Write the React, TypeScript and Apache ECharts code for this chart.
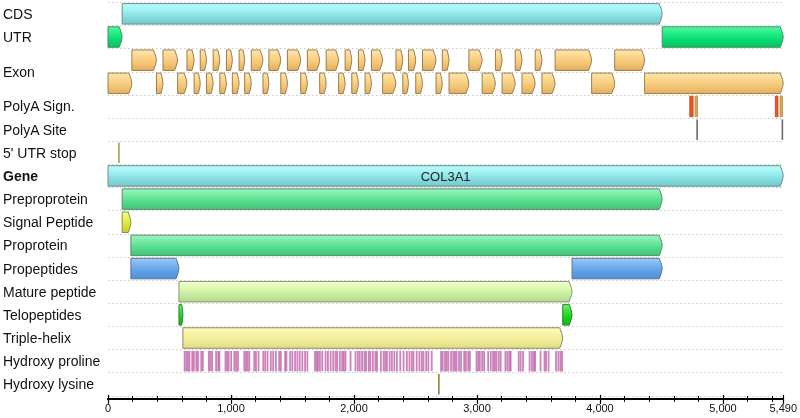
import React, { useEffect, useRef } from 'react';
import * as echarts from 'echarts';

// ---------- data ----------
const laneKeys = ['CDS', 'UTR', 'Exon-a', 'Exon-b', 'PolyA Sign.', 'PolyA Site', "5' UTR stop", 'Gene',
  'Preproprotein', 'Signal Peptide', 'Proprotein', 'Propeptides', 'Mature peptide', 'Telopeptides',
  'Triple-helix', 'Hydroxy proline', 'Hydroxy lysine'];

const laneLabels = [
  { text: 'CDS', lane: 0 }, { text: 'UTR', lane: 1 }, { text: 'Exon', lane: 2.5 },
  { text: 'PolyA Sign.', lane: 4 }, { text: 'PolyA Site', lane: 5 }, { text: "5' UTR stop", lane: 6 },
  { text: 'Gene', lane: 7, bold: true }, { text: 'Preproprotein', lane: 8 }, { text: 'Signal Peptide', lane: 9 },
  { text: 'Proprotein', lane: 10 }, { text: 'Propeptides', lane: 11 }, { text: 'Mature peptide', lane: 12 },
  { text: 'Telopeptides', lane: 13 }, { text: 'Triple-helix', lane: 14 }, { text: 'Hydroxy proline', lane: 15 },
  { text: 'Hydroxy lysine', lane: 16 },
];

const seqLength = 5490;
const xTicksMajor = 1000;
const xTicksMinor = 200;

const cds = [[115, 4506]];
const utr = [[0, 115], [4506, 5490]];
const exonBounds = [0, 194, 394, 447, 566, 642, 700, 750, 801, 855, 909, 963, 1011, 1066, 1111, 1165, 1260, 1308,
  1405, 1459, 1567, 1621, 1721, 1774, 1875, 1928, 1982, 2036, 2090, 2142, 2233, 2341, 2397, 2443, 2502, 2557, 2667,
  2718, 2773, 2934, 3042, 3150, 3204, 3311, 3366, 3473, 3528, 3635, 3932, 4120, 4363, 5490];
const polyASignalRed = [[4730, 4757], [5426, 5447]];
const polyASignalTan = [[4773, 4784], [5464, 5474]];
const polyASite = [4790, 5483];
const utrStop = [89];
const gene = [[0, 5490]];
const geneName = 'COL3A1';
const preproprotein = [[115, 4506]];
const signalPeptide = [[115, 186]];
const proprotein = [[186, 4506]];
const propeptides = [[186, 577], [3773, 4506]];
const maturePeptide = [[577, 3773]];
const telopeptides = [[577, 609], [3697, 3773]];
const tripleHelix = [[609, 3697]];
const hydroxyProline = [623, 637, 650, 663, 685, 698, 718, 731, 758, 771, 820, 833, 847, 879, 896, 906, 955, 968, 981,
  1001, 1027, 1041, 1057, 1108, 1122, 1135, 1149, 1189, 1203, 1224, 1262, 1278, 1297, 1324, 1343, 1365, 1392, 1405,
  1440, 1451, 1481, 1499, 1521, 1540, 1559, 1580, 1602, 1621, 1683, 1697, 1707, 1723, 1742, 1769, 1788, 1810, 1831,
  1850, 1863, 1885, 1904, 1917, 1931, 1972, 2012, 2031, 2047, 2066, 2085, 2098, 2120, 2133, 2154, 2174, 2187, 2219,
  2241, 2255, 2268, 2290, 2308, 2328, 2349, 2376, 2403, 2430, 2451, 2470, 2484, 2510, 2532, 2551, 2565, 2587, 2605,
  2632, 2708, 2721, 2740, 2753, 2767, 2789, 2807, 2821, 2834, 2854, 2870, 2896, 2910, 2929, 2942, 2996, 3010, 3023,
  3042, 3058, 3091, 3112, 3131, 3145, 3158, 3177, 3193, 3231, 3247, 3263, 3274, 3339, 3355, 3374, 3428, 3447, 3463,
  3473, 3517, 3549, 3562, 3582, 3643, 3662, 3679, 3692];
const hydroxyLysine = [2690];

// ---------- rendering helpers ----------
const FONT = '"Liberation Sans", Arial, Helvetica, sans-serif';
const H_FRAC = 0.885;

const grad = (stops: string[]) =>
  new echarts.graphic.LinearGradient(0, 0, 0, 1, stops.map((c, i) => ({ offset: i / (stops.length - 1), color: c })));

function arrowRender(stops: string[], stroke: string, label?: string) {
  return (params: any, api: any) => {
    const s = api.value(0), e = api.value(1), lane = api.value(2);
    const p0 = api.coord([s, lane]);
    const p1 = api.coord([e, lane]);
    const band = api.size([0, 1])[1];
    const h = band * H_FRAC;
    const x0 = p0[0];
    const x1 = Math.max(p1[0], x0 + 3);
    const yc = p0[1];
    const tip = Math.min(3, (x1 - x0) * 0.3);
    const top = yc - h / 2, bot = yc + h / 2;
    const children: any[] = [{
      type: 'polygon',
      shape: {
        points: [[x0, top], [x1 - tip, top], [x1 - tip * 0.25, yc - h * 0.2], [x1, yc],
          [x1 - tip * 0.25, yc + h * 0.2], [x1 - tip, bot], [x0, bot]],
      },
      style: { fill: grad(stops), stroke, lineWidth: 1 },
    }];
    if (label) {
      children.push({
        type: 'text',
        style: { text: label, x: (x0 + x1) / 2, y: yc + 1, align: 'center', verticalAlign: 'middle',
          font: `13px ${FONT}`, fill: '#222' },
      });
    }
    return { type: 'group', children };
  };
}

function tickRender(color: string, width: number, opacity = 1) {
  return (params: any, api: any) => {
    const p = api.coord([api.value(0), api.value(1)]);
    const band = api.size([0, 1])[1];
    const h = band * H_FRAC;
    return {
      type: 'rect',
      shape: { x: p[0] - width / 2, y: p[1] - h / 2, width, height: h },
      style: { fill: color, opacity },
    };
  };
}

function boxRender(fill: string, stroke: string) {
  return (params: any, api: any) => {
    const p0 = api.coord([api.value(0), api.value(2)]);
    const p1 = api.coord([api.value(1), api.value(2)]);
    const band = api.size([0, 1])[1];
    const h = band * H_FRAC;
    const w = Math.max(p1[0] - p0[0], 2.5);
    return {
      type: 'rect',
      shape: { x: p0[0], y: p0[1] - h / 2, width: w, height: h },
      style: { fill, stroke, lineWidth: 0.8 },
    };
  };
}

const laneOf = (k: string) => laneKeys.indexOf(k);
const spans = (arr: number[][], k: string) => arr.map((d) => [d[0], d[1], laneOf(k)]);

function arrowSeries(name: string, data: number[][], stops: string[], stroke: string, label?: string) {
  return {
    type: 'custom', name, xAxisIndex: 0, yAxisIndex: 0,
    renderItem: arrowRender(stops, stroke, label),
    encode: { x: [0, 1], y: 2 },
    data,
  };
}

export default function App() {
  const ref = useRef<HTMLDivElement>(null);
  useEffect(() => {
    if (!ref.current) return;
    const chart = echarts.init(ref.current, undefined, { renderer: 'svg' });

    const exonData = exonBounds.slice(0, -1).map((s, i) => [s, exonBounds[i + 1], i % 2 === 0 ? laneOf('Exon-b') : laneOf('Exon-a')]);

    const CYAN = ['#b8fcfc', '#a0f2f2', '#84dcde', '#74c8cc'];
    const GREEN = ['#9af5c0', '#72eaa2', '#50d888', '#44c47a'];

    const xAxisBase = {
      type: 'value', min: 0, max: seqLength, gridIndex: 0, position: 'bottom', offset: 3,
      splitLine: { show: false },
      axisLine: { show: true, lineStyle: { color: '#000', width: 1.5 } },
    };

    chart.setOption({
      animation: false,
      grid: { left: 108, right: 13.4, top: 2.3, bottom: 22.1, containLabel: false },
      xAxis: [
        { ...xAxisBase, interval: xTicksMajor,
          axisTick: { show: true, length: 5, lineStyle: { color: '#000', width: 1.2 } },
          axisLabel: { show: true, showMinLabel: true, showMaxLabel: true, margin: 4, fontSize: 11, color: '#111', fontFamily: FONT,
            formatter: (v: number) => v.toLocaleString('en-US') } },
        { ...xAxisBase, interval: xTicksMajor,
          axisTick: { show: true, inside: true, length: 4, lineStyle: { color: '#000', width: 1.2 } },
          axisLabel: { show: false } },
        { ...xAxisBase, interval: xTicksMinor,
          axisTick: { show: true, length: 3, lineStyle: { color: '#000', width: 1 } },
          axisLabel: { show: false } },
        { ...xAxisBase, interval: xTicksMinor,
          axisTick: { show: true, inside: true, length: 3, lineStyle: { color: '#000', width: 1 } },
          axisLabel: { show: false } },
      ],
      yAxis: {
        type: 'category', data: laneKeys, inverse: true,
        axisLine: { show: false }, axisTick: { show: false }, axisLabel: { show: false },
        splitLine: { show: true, lineStyle: { color: '#c8c8c8', type: [1.5, 2.5], width: 1 } },
      },
      series: [
        {
          type: 'custom', name: 'labels', xAxisIndex: 0, yAxisIndex: 0,
          encode: { x: 0, y: 1 },
          data: laneLabels.map((l) => [0, Math.floor(l.lane)]),
          renderItem: (params: any, api: any) => {
            const item = laneLabels[params.dataIndex];
            const p = api.coord([0, Math.floor(item.lane)]);
            const band = api.size([0, 1])[1];
            const y = p[1] + (item.lane - Math.floor(item.lane)) * band;
            return {
              type: 'text',
              style: { text: item.text, x: params.coordSys.x - 105, y, align: 'left', verticalAlign: 'middle',
                font: `${item.bold ? 'bold ' : ''}14px ${FONT}`, fill: '#111' },
            };
          },
        },
        arrowSeries('CDS', spans(cds, 'CDS'), CYAN, '#6f8c8e'),
        arrowSeries('UTR', spans(utr, 'UTR'), ['#50f8a0', '#20ec84', '#08d870', '#06c462'], '#4b8a62'),
        arrowSeries('Exon', exonData, ['#fde6ae', '#fbd68c', '#f2c474', '#e2ae5c'], '#9c7e4e'),
        {
          type: 'custom', name: 'PolyA Sign. red', xAxisIndex: 0, yAxisIndex: 0, encode: { x: [0, 1], y: 2 },
          data: spans(polyASignalRed, 'PolyA Sign.'), renderItem: boxRender('#f2561e', '#b8401a'),
        },
        {
          type: 'custom', name: 'PolyA Sign. tan', xAxisIndex: 0, yAxisIndex: 0, encode: { x: [0, 1], y: 2 },
          data: spans(polyASignalTan, 'PolyA Sign.'), renderItem: boxRender('#dca458', '#b88a44'),
        },
        {
          type: 'custom', name: 'PolyA Site', xAxisIndex: 0, yAxisIndex: 0, encode: { x: 0, y: 1 },
          data: polyASite.map((v) => [v, laneOf('PolyA Site')]), renderItem: tickRender('#6a6a6a', 1.6),
        },
        {
          type: 'custom', name: "5' UTR stop", xAxisIndex: 0, yAxisIndex: 0, encode: { x: 0, y: 1 },
          data: utrStop.map((v) => [v, laneOf("5' UTR stop")]), renderItem: tickRender('#9aa458', 1.6),
        },
        arrowSeries('Gene', spans(gene, 'Gene'), CYAN, '#6f8c8e', geneName),
        arrowSeries('Preproprotein', spans(preproprotein, 'Preproprotein'), GREEN, '#5a8a6c'),
        arrowSeries('Signal Peptide', spans(signalPeptide, 'Signal Peptide'), ['#f4fc8a', '#e6f256', '#d4e236', '#c4d02a'], '#8a9040'),
        arrowSeries('Proprotein', spans(proprotein, 'Proprotein'), GREEN, '#5a8a6c'),
        arrowSeries('Propeptides', spans(propeptides, 'Propeptides'), ['#9ccaf6', '#78b2ee', '#5e9ee4', '#5290d6'], '#5a7490'),
        arrowSeries('Mature peptide', spans(maturePeptide, 'Mature peptide'), ['#f2ffd4', '#dcf8b0', '#c4eaa0', '#b0d88c'], '#8a9a70'),
        arrowSeries('Telopeptides', spans(telopeptides, 'Telopeptides'), ['#70f470', '#36e236', '#18cc18', '#10b810'], '#3a7a3a'),
        arrowSeries('Triple-helix', spans(tripleHelix, 'Triple-helix'), ['#fcfcc4', '#f6f2a4', '#eeea94', '#e0dc84'], '#8c8a5a'),
        {
          type: 'custom', name: 'Hydroxy proline', xAxisIndex: 0, yAxisIndex: 0, encode: { x: 0, y: 1 },
          data: hydroxyProline.map((v) => [v, laneOf('Hydroxy proline')]), renderItem: tickRender('#b9529f', 1.8, 0.72),
        },
        {
          type: 'custom', name: 'Hydroxy lysine', xAxisIndex: 0, yAxisIndex: 0, encode: { x: 0, y: 1 },
          data: hydroxyLysine.map((v) => [v, laneOf('Hydroxy lysine')]), renderItem: tickRender('#7c8c32', 1.6),
        },
      ],
    });
    return () => chart.dispose();
  }, []);
  return <div ref={ref} style={{ position: 'fixed', left: 0, top: 0, width: 800, height: 418 }} />;
}
